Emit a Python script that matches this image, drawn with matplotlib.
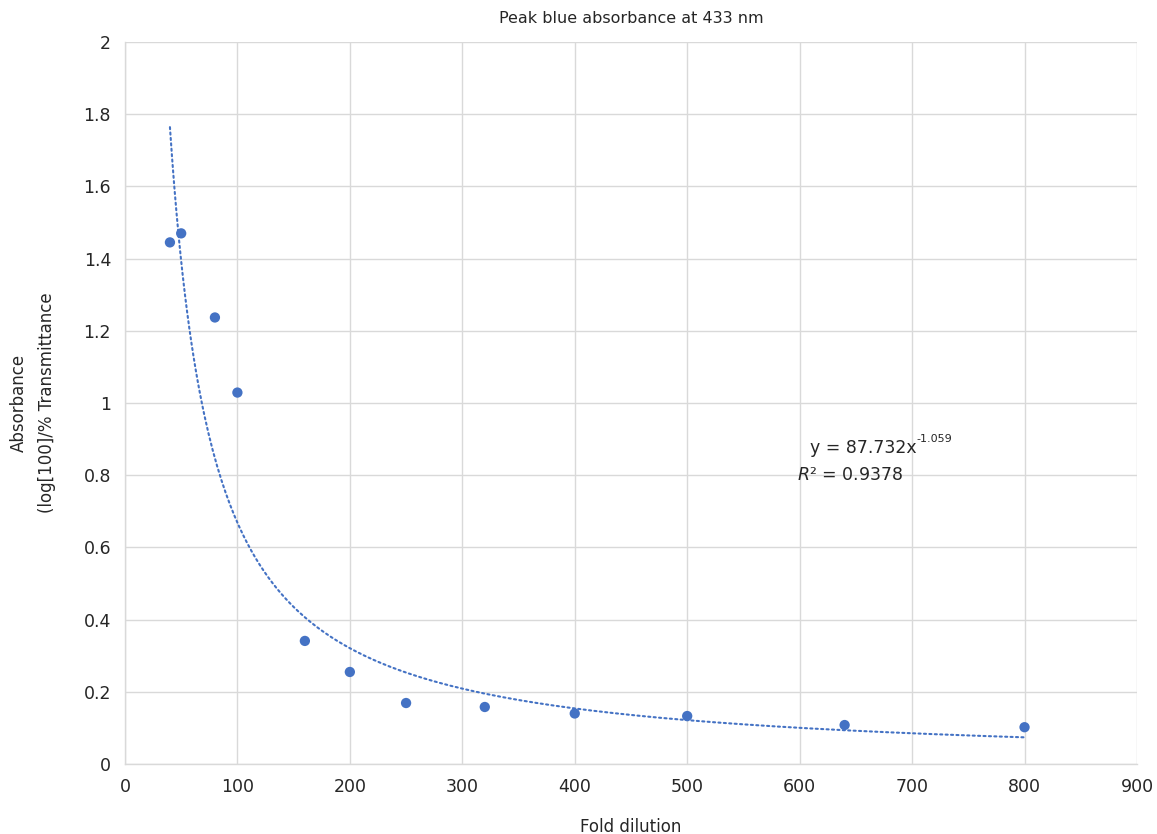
import numpy as np
import matplotlib
matplotlib.use("Agg")
import matplotlib.pyplot as plt

# fold dilution vs. absorbance
dilution = [40, 50, 80, 100, 160, 200, 250, 320, 400, 500, 640, 800]
absorbance = [1.445, 1.470, 1.237, 1.029, 0.341, 0.255, 0.169, 0.158, 0.140, 0.133, 0.108, 0.102]

# power trendline shown on the chart
coef_a = 87.732
coef_b = -1.059
r_squared = 0.9378

blue = "#4472C4"
grid_col = "#d9d9d9"
txt_col = "#262626"

plt.rcParams['font.family'] = ['DejaVu Sans']

fig = plt.figure(figsize=(11.57, 8.34), dpi=100)
ax = fig.add_axes([0.108, 0.0839, 0.8747, 0.8657])

xs = np.linspace(min(dilution), max(dilution), 400)
ax.plot(xs, coef_a * xs ** coef_b, color=blue, lw=1.5, linestyle=(0, (1, 1.6)),
        dash_capstyle='round', zorder=2)
ax.scatter(dilution, absorbance, s=55, color=blue, zorder=3, edgecolors='none')

ax.set_xlim(0, 900)
ax.set_ylim(0, 2)
ax.set_xticks(np.arange(0, 901, 100))
ax.set_yticks(np.arange(0, 2.01, 0.2))
ax.set_yticklabels(["0", "0.2", "0.4", "0.6", "0.8", "1", "1.2", "1.4", "1.6", "1.8", "2"])
ax.grid(True, color=grid_col, lw=1.0)
ax.set_axisbelow(True)
for s in ['top', 'right']:
    ax.spines[s].set_visible(False)
for s in ['left', 'bottom']:
    ax.spines[s].set_color(grid_col)
    ax.spines[s].set_linewidth(1.0)
ax.tick_params(length=0, labelsize=12.5, colors=txt_col, pad=10)

ax.set_title("Peak blue absorbance at 433 nm", fontsize=11.5, color=txt_col, pad=14)
ax.set_xlabel("Fold dilution", fontsize=12, color=txt_col, labelpad=16)
ax.set_ylabel("Absorbance\n(log[100]/% Transmittance", fontsize=12, color=txt_col,
              labelpad=20, linespacing=1.7)

eq = ax.text(609, 0.875, "y = 87.732x", fontsize=12.5, color=txt_col,
             ha='left', va='center')
ax.annotate(f"{coef_b}", xy=(1, 1), xycoords=eq, xytext=(0, 4), textcoords='offset points',
            fontsize=8, color=txt_col, ha='left', va='top')
ax.text(598, 0.80, r"$R$² = " + f"{r_squared}", fontsize=12.5, color=txt_col,
        ha='left', va='center')

fig.savefig("out.png", dpi=100)
